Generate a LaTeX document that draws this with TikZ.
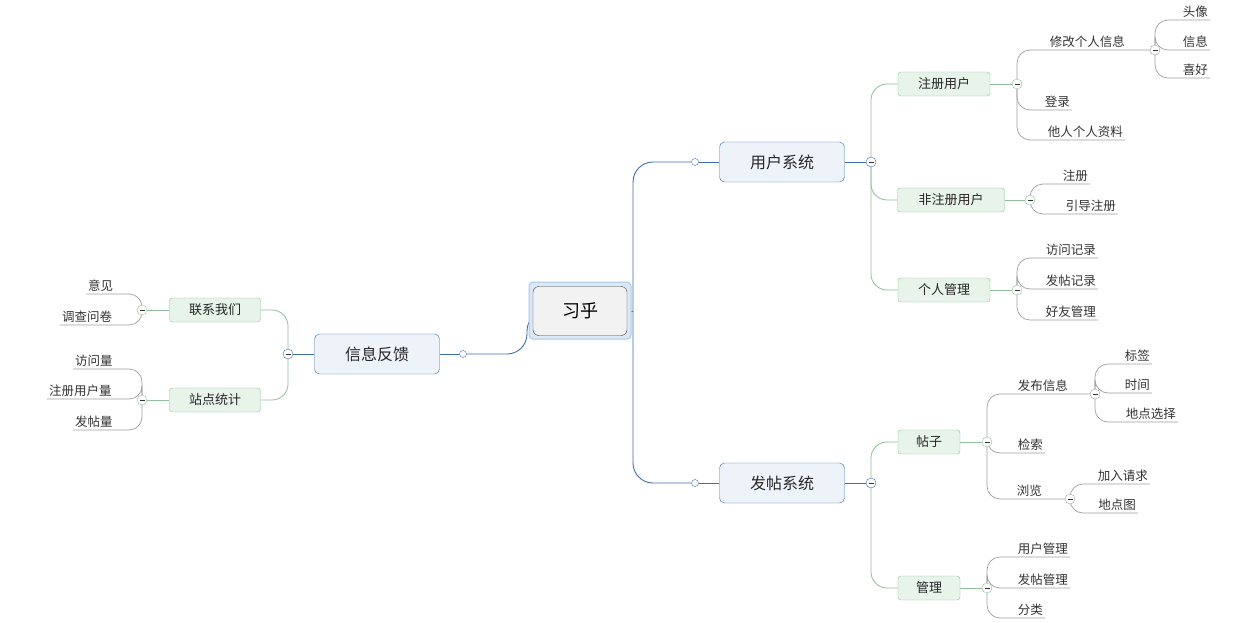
\documentclass[tikz,border=0pt]{standalone}
\usepackage{fontspec}
\newfontfamily\cjk{Noto Sans CJK SC}
\pgfdeclarelayer{bg}
\pgfdeclarelayer{bgw}
\pgfsetlayers{bgw,bg,main}
\definecolor{lblue}{HTML}{3F6FA8}
\definecolor{fblue}{HTML}{EEF3FA}
\definecolor{lgreen}{HTML}{8FC09A}
\definecolor{fgreen}{HTML}{E8F3EA}
\definecolor{lgray}{HTML}{A0A0A0}
\definecolor{selb}{HTML}{A9C8EC}
\definecolor{self}{HTML}{DCE8F6}
\tikzset{
 lone/.style={draw=lblue,fill=fblue,rounded corners=5pt,minimum width=125pt,minimum height=40pt,font=\cjk\fontsize{16}{18}\selectfont,text=black!85},
 ltwo/.style={draw=lgreen,fill=fgreen,rounded corners=3pt,minimum height=24pt,font=\cjk\fontsize{13}{15}\selectfont,text=black!85},
 leafR/.style={anchor=south east,inner sep=2pt,font=\cjk\fontsize{12.5}{14}\selectfont,text=black!80},
 leafL/.style={anchor=south west,inner sep=2pt,font=\cjk\fontsize{12.5}{14}\selectfont,text=black!80},
 col/.style={circle,draw=#1,fill=white,minimum size=10pt,inner sep=0pt,path picture={\draw[black!80,line width=0.9pt](path picture bounding box.center)+(-2.5pt,0)--+(2.5pt,0);}},
 dot/.style={circle,draw=lblue,fill=white,minimum size=7pt,inner sep=0pt},
 cb/.style={draw=lblue,line width=0.9pt,rounded corners=20pt},
 cg/.style={draw=lgreen,line width=0.8pt,rounded corners=16pt},
 cl/.style={draw=lgray,line width=0.7pt,rounded corners=13pt},
}
\begin{document}
\begin{tikzpicture}[x=1pt,y=-1pt]
\begin{pgfonlayer}{bgw}
\fill[white] (0,0) rectangle (1255,623);
\end{pgfonlayer}
\useasboundingbox (0,0) rectangle (1255,623);
% root
\draw[rounded corners=4pt,draw=selb,fill=self,line width=1pt] (529,282) rectangle (631,339);
\node[draw=black!75,fill=black!5,rounded corners=6pt,minimum width=94pt,minimum height=49pt,font=\cjk\fontsize{18}{20}\selectfont] (root) at (580,311) {习乎};
% level 1
\node[lone] (us) at (782,162) {用户系统};
\node[lone] (ps) at (782,483) {发帖系统};
\node[lone] (fb) at (377,354) {信息反馈};
\node[dot] (usd) at (695,162) {};
\node[dot] (psd) at (695,483) {};
\node[dot] (fbd) at (463,354) {};
\node[col=lblue] (usc) at (871,162) {};
\node[col=lblue] (psc) at (871,483) {};
\node[col=lblue] (fbc) at (288,354) {};
% level 2
\node[ltwo,minimum width=92pt] (zc) at (944,84) {注册用户};
\node[ltwo,minimum width=107pt] (fz) at (951,200) {非注册用户};
\node[ltwo,minimum width=92pt] (gr) at (944,290) {个人管理};
\node[ltwo,minimum width=62pt] (tz) at (929,442) {帖子};
\node[ltwo,minimum width=62pt] (gl) at (929,588) {管理};
\node[ltwo,minimum width=91pt] (lx) at (215,310) {联系我们};
\node[ltwo,minimum width=91pt] (zd) at (215,400) {站点统计};
\node[col=lgreen] (zcc) at (1017,84) {};
\node[col=lgreen] (fzc) at (1030,200) {};
\node[col=lgreen] (grc) at (1017,290) {};
\node[col=lgreen] (tzc) at (987,442) {};
\node[col=lgreen] (glc) at (987,588) {};
\node[col=lgreen] (lxc) at (142,310) {};
\node[col=lgreen] (zdc) at (142,400) {};
% leaves
\node[leafR] (xg) at (1127,50) {修改个人信息};
\node[col=lgray] (xgc) at (1155,50) {};
\node[leafR] (tx) at (1210,20) {头像};
\node[leafR] (xx) at (1210,50) {信息};
\node[leafR] (xh) at (1210,78) {喜好};
\node[leafR] (dl) at (1072,110) {登录};
\node[leafR] (tr) at (1125,140) {他人个人资料};
\node[leafR] (zh) at (1090,184) {注册};
\node[leafR] (yd) at (1118,214) {引导注册};
\node[leafR] (fw) at (1098,258) {访问记录};
\node[leafR] (ft) at (1098,289) {发帖记录};
\node[leafR] (hy) at (1098,320) {好友管理};
\node[leafR] (fb2) at (1070,394) {发布信息};
\node[col=lgray] (fbx) at (1095,394) {};
\node[leafR] (bq) at (1152,364) {标签};
\node[leafR] (sj) at (1152,393) {时间};
\node[leafR] (dd) at (1178,422) {地点选择};
\node[leafR] (js) at (1045,453) {检索};
\node[leafR] (ll) at (1044,499) {浏览};
\node[col=lgray] (llc) at (1070,499) {};
\node[leafR] (jr) at (1150,484) {加入请求};
\node[leafR] (dt) at (1138,513) {地点图};
\node[leafR] (yh) at (1070,557) {用户管理};
\node[leafR] (fg) at (1070,588) {发帖管理};
\node[leafR] (fl) at (1045,618) {分类};
\node[leafL] (yj) at (86,294) {意见};
\node[leafL] (dc) at (60,325) {调查问卷};
\node[leafL] (fl2) at (73,369) {访问量};
\node[leafL] (zcl) at (47,399) {注册用户量};
\node[leafL] (ftl) at (73,430) {发帖量};
\begin{pgfonlayer}{bg}
\draw[cb] (root.east) -- (633,311);
\draw[cb] (633,311) |- (usd); \draw[cb] (633,311) |- (psd);
\draw[cb] (usd) -- (us.west); \draw[cb] (psd) -- (ps.west);
\draw[cb] (root.west) -- (527,311) |- (fbd); \draw[cb] (fbd) -- (fb.east);
\draw[cb] (us.east) -- (usc); \draw[cb] (ps.east) -- (psc); \draw[cb] (fb.west) -- (fbc);
\foreach \a/\b in {usc/zc,usc/fz,usc/gr,psc/tz,psc/gl} \draw[cg] (\a) |- (\b.west);
\foreach \a/\b in {fbc/lx,fbc/zd} \draw[cg] (\a) |- (\b.east);
\foreach \a/\b in {zc/zcc,fz/fzc,gr/grc,tz/tzc,gl/glc} \draw[cg] (\a.east) -- (\b);
\foreach \a/\b in {lx/lxc,zd/zdc} \draw[cg] (\a.west) -- (\b);
\foreach \a/\b in {xgc/tx,xgc/xx,xgc/xh,zcc/dl,zcc/tr,fzc/zh,fzc/yd,grc/fw,grc/ft,grc/hy,fbx/bq,fbx/sj,fbx/dd,tzc/js,llc/jr,llc/dt,glc/yh,glc/fg,glc/fl}
  \draw[cl] (\a) |- (\b.south east);
\draw[cl] (zcc) |- (xgc); \draw[cl] (tzc) |- (fbx); \draw[cl] (tzc) |- (llc);
\foreach \a/\b in {lxc/yj,lxc/dc,zdc/fl2,zdc/zcl,zdc/ftl}
  \draw[cl] (\a) |- (\b.south west);
\end{pgfonlayer}
\end{tikzpicture}
\end{document}
